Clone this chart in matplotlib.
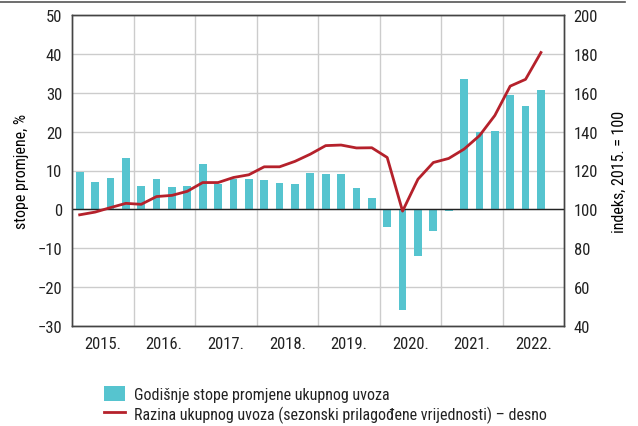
import matplotlib.pyplot as plt
from matplotlib.patches import Patch
from matplotlib.lines import Line2D

# quarterly data, 2015Q1 - 2022Q3
years = ['2015.', '2016.', '2017.', '2018.', '2019.', '2020.', '2021.', '2022.']
growth = [9.5, 7.0, 8.0, 13.3,
          6.0, 7.9, 5.8, 5.9,
          11.8, 6.4, 7.9, 7.7,
          7.5, 6.7, 6.6, 9.3,
          9.1, 9.1, 5.5, 2.8,
          -4.5, -26.0, -12.1, -5.6,
          -0.3, 33.5, 19.9, 20.1,
          29.5, 26.6, 30.6]
level = [97.2, 98.6, 100.9, 103.1,
         102.6, 106.6, 107.2, 109.3,
         113.8, 113.8, 116.4, 117.8,
         121.9, 121.9, 124.7, 128.4,
         132.8, 133.1, 131.6, 131.7,
         126.7, 99.1, 115.5, 124.1,
         126.2, 131.0, 137.9, 148.3,
         163.4, 166.9, 180.7]

bar_color = '#56c4cf'
line_color = '#b5212b'
grid_color = '#cccccc'

plt.rcParams['font.family'] = ['Roboto Condensed', 'DejaVu Sans']
plt.rcParams['font.size'] = 11
plt.rcParams['text.color'] = '#222222'

fig = plt.figure(figsize=(6.38, 4.27), dpi=100)
ax = fig.add_axes([72 / 638, 1 - 327 / 427, 492 / 638, 311 / 427])
ax2 = ax.twinx()

x = [i + 0.5 for i in range(len(growth))]
ax.bar(x, growth, width=0.5, color=bar_color, zorder=2)
ax.axhline(0, color='#222222', lw=1, zorder=3)

ax2.plot(x, level, color=line_color, lw=2, zorder=4)

ax.set_xlim(0, 32)
ax.set_ylim(-30, 50)
ax.set_yticks(range(-30, 51, 10))
ax.set_yticklabels(['\u221230', '\u221220', '\u221210', '0', '10', '20', '30', '40', '50'])
ax2.set_ylim(40, 200)
ax2.set_yticks(range(40, 201, 20))

ax.set_xticks([4 * i + 2 for i in range(len(years))])
ax.set_xticklabels(years)
ax.set_xticks([4 * i for i in range(1, 8)], minor=True)
ax.grid(True, axis='y', color=grid_color, lw=1, zorder=0)
ax.grid(True, axis='x', which='minor', color=grid_color, lw=1, zorder=0)
ax.grid(False, axis='x', which='major')
ax.set_axisbelow(True)

for a in (ax, ax2):
    a.tick_params(length=0, labelsize=12, colors='#222222', pad=7)
    a.tick_params(which='minor', length=0)
    for s in a.spines.values():
        s.set_color('#444444')
        s.set_linewidth(1)

ax.set_ylabel('stope promjene, %', fontsize=11.5, labelpad=6)
ax2.set_ylabel('indeks, 2015. = 100', fontsize=11.5, labelpad=10)

# thin rule at the top of the figure
fig.add_artist(Line2D([0, 625 / 638], [1 - 3 / 427, 1 - 3 / 427], color='#555555', lw=1.2))

handles = [Patch(facecolor=bar_color, edgecolor='none'),
           Line2D([0], [0], color=line_color, lw=2)]
labels = ['Godišnje stope promjene ukupnog uvoza',
          'Razina ukupnog uvoza (sezonski prilagođene vrijednosti) \u2013 desno']
fig.legend(handles, labels, loc='upper left', bbox_to_anchor=(96 / 638, 1 - 379 / 427),
           frameon=False, fontsize=11.5, handlelength=1.3, handleheight=1.1,
           labelspacing=0.2, handletextpad=0.55, borderpad=0)

fig.savefig('out.png', dpi=100)
